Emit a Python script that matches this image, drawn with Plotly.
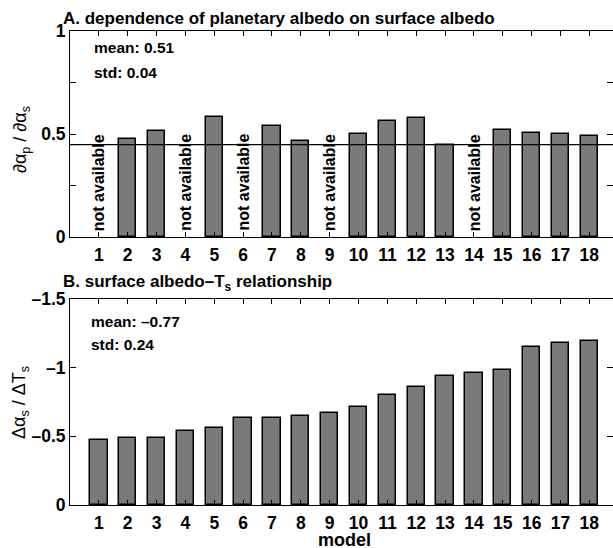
import plotly.graph_objects as go

models = list(range(1, 19))
tick_labels = [str(m) for m in models]
# Panel A: d(alpha_p)/d(alpha_s); None = not available
dap_das = [None, 0.474, 0.514, None, 0.583, None, 0.539, 0.466, None,
           0.500, 0.565, 0.579, 0.445, None, 0.521, 0.503, 0.498, 0.490]
ref_line_a = 0.448
# Panel B: d(alpha_s)/dTs
das_dts = [-0.472, -0.491, -0.491, -0.542, -0.559, -0.630, -0.630, -0.651, -0.671,
           -0.712, -0.802, -0.861, -0.941, -0.960, -0.982, -1.150, -1.181, -1.194]
stats_a = ["mean: 0.51", "std: 0.04"]
stats_b = ["mean: –0.77", "std: 0.24"]
ytick_a = [0, 0.25, 0.5, 0.75, 1]
ytext_a = ["0", "", "0.5", "", "1"]
ytick_b = [0, -0.5, -1, -1.5]
ytext_b = ["0", "–0.5", "–1", "–1.5"]

W, H = 613, 548
L = 70
plot_w = W - L
top_dom = [1 - 237 / H, 1 - 31 / H]
bot_dom = [1 - 505 / H, 1 - 299 / H]
xr = [0, 18.82]

FONT = "Liberation Sans"
bar_color = "#7a7a7a"

fig = go.Figure()
fig.add_trace(go.Scatter(x=[xr[0], xr[1]], y=[ref_line_a, ref_line_a], mode="lines",
                         line=dict(color="black", width=1.2), xaxis="x", yaxis="y",
                         showlegend=False, hoverinfo="skip"))
fig.add_trace(go.Bar(x=models, y=dap_das, width=0.6, marker=dict(color=bar_color,
                     line=dict(color="black", width=1.5)), xaxis="x", yaxis="y",
                     showlegend=False))
fig.add_trace(go.Bar(x=models, y=das_dts, width=0.6, marker=dict(color=bar_color,
                     line=dict(color="black", width=1.5)), xaxis="x2", yaxis="y2",
                     showlegend=False))
fig.add_trace(go.Scatter(x=[None], y=[None], xaxis="x", yaxis="y3", showlegend=False))
fig.add_trace(go.Scatter(x=[None], y=[None], xaxis="x2", yaxis="y4", showlegend=False))

tickfont = dict(family=FONT, size=17.5, color="black")
common_x = dict(range=xr, tickvals=models, ticktext=["<b>%s</b>" % t for t in tick_labels],
                ticks="inside", ticklen=5, ticklabelstandoff=2,
                tickcolor="black", showline=True, linecolor="black", linewidth=1,
                mirror="ticks", showgrid=False, zeroline=False, tickfont=tickfont,
                domain=[0, 1], automargin=False)
common_y = dict(ticks="inside", ticklen=6, tickcolor="black", showline=True,
                linecolor="black", linewidth=1, showgrid=False, zeroline=False,
                tickfont=tickfont, automargin=False)

annotations = []
# not available labels
for m, v in zip(models, dap_das):
    if v is None:
        annotations.append(dict(x=m, y=0.02, xref="x", yref="y", text="<b>not available</b>",
                                textangle=-90, showarrow=False, yanchor="bottom",
                                xanchor="center",
                                font=dict(family=FONT, size=16, color="black")))
statfont = dict(family=FONT, size=15.5, color="black")
for i, s in enumerate(stats_a):
    annotations.append(dict(x=(92 - L) / plot_w, y=1 - (47 + 25 * i) / H, xref="paper",
                            yref="paper", text="<b>%s</b>" % s, showarrow=False,
                            xanchor="left", yanchor="middle", font=statfont))
for i, s in enumerate(stats_b):
    annotations.append(dict(x=(89 - L) / plot_w, y=1 - (321 + 23 * i) / H, xref="paper",
                            yref="paper", text="<b>%s</b>" % s, showarrow=False,
                            xanchor="left", yanchor="middle", font=statfont))
titlefont = dict(family=FONT, size=17, color="black")
annotations.append(dict(x=(61 - L) / plot_w, y=1 - 18 / H, xref="paper", yref="paper",
                        text="<b>A. dependence of planetary albedo on surface albedo</b>",
                        showarrow=False, xanchor="left", yanchor="middle", font=titlefont))
annotations.append(dict(x=(61 - L) / plot_w, y=1 - 283 / H, xref="paper", yref="paper",
                        text="<b>B. surface albedo–T<sub>s</sub> relationship</b>",
                        showarrow=False, xanchor="left", yanchor="middle", font=titlefont))
labfont = dict(family=FONT, size=18, color="black")
annotations.append(dict(x=(21 - L) / plot_w, y=1 - 140 / H, xref="paper", yref="paper",
                        text="∂α<sub>p</sub> / ∂α<sub>s</sub>", textangle=-90,
                        showarrow=False, xanchor="center", yanchor="middle", font=labfont))
annotations.append(dict(x=(20 - L) / plot_w, y=1 - 403 / H, xref="paper", yref="paper",
                        text="Δα<sub>s</sub> / ΔT<sub>s</sub>", textangle=-90,
                        showarrow=False, xanchor="center", yanchor="middle", font=labfont))
annotations.append(dict(x=(344 - L) / plot_w, y=1 - 540 / H, xref="paper", yref="paper",
                        text="<b>model</b>", showarrow=False, xanchor="center",
                        yanchor="middle", font=dict(family=FONT, size=18, color="black")))

fig.update_layout(
    width=W, height=H, margin=dict(l=L, r=0, t=0, b=0, autoexpand=False),
    paper_bgcolor="white", plot_bgcolor="white",
    font=dict(family=FONT, color="black"),
    bargap=0,
    xaxis=dict(anchor="y", **common_x),
    yaxis=dict(anchor="x", domain=top_dom, range=[0, 1], tickvals=ytick_a,
               ticktext=["<b>%s</b>" % t if t else "" for t in ytext_a], **common_y),
    xaxis2=dict(anchor="y2", **common_x),
    yaxis2=dict(anchor="x2", domain=bot_dom, range=[0, -1.5], tickvals=ytick_b,
                ticktext=["<b>%s</b>" % t for t in ytext_b], **common_y),
    yaxis3=dict(overlaying="y", side="right", anchor="x", range=[0, 1], tickvals=ytick_a,
                ticks="inside", ticklen=6, tickcolor="black", showticklabels=False,
                showline=False, showgrid=False, zeroline=False, automargin=False),
    yaxis4=dict(overlaying="y2", side="right", anchor="x2", range=[0, -1.5],
                tickvals=ytick_b, ticks="inside", ticklen=6, tickcolor="black",
                showticklabels=False, showline=False, showgrid=False, zeroline=False,
                automargin=False),
    annotations=annotations,
)

fig.write_html("out.html")
